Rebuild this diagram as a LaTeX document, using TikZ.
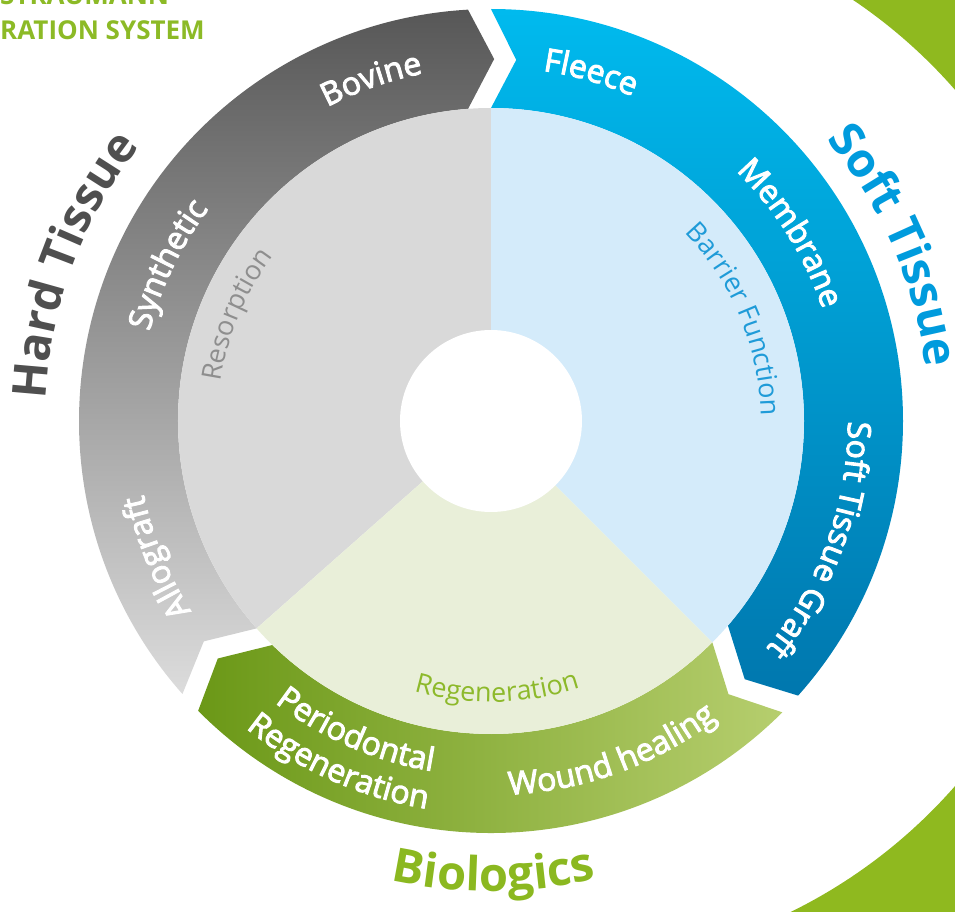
\documentclass[tikz,border=0pt]{standalone}
\usepackage{fontspec}
\setmainfont{Open Sans}
\newfontfamily\bandface{Open Sans}[FakeBold=3]
\usetikzlibrary{decorations.text}

\definecolor{ringgreen}{HTML}{8FB91F}
\definecolor{titlegreen}{HTML}{8CBA26}
\definecolor{graytop}{HTML}{575757}
\definecolor{graybot}{HTML}{DCDCDC}
\definecolor{bluetop}{HTML}{00BAEE}
\definecolor{bluebot}{HTML}{0077AE}
\definecolor{greenleft}{HTML}{6B9817}
\definecolor{greenright}{HTML}{B6CE6E}
\definecolor{innergray}{HTML}{D9D9D9}
\definecolor{innerblue}{HTML}{D4EBFA}
\definecolor{innergreen}{HTML}{E9EFD9}
\definecolor{hardgray}{HTML}{4F4F4F}
\definecolor{softblue}{HTML}{009BDD}
\definecolor{biogreen}{HTML}{8BB820}
\definecolor{resorpgray}{HTML}{8E8E8E}
\definecolor{barrierblue}{HTML}{1F9BD8}
\definecolor{regengreen}{HTML}{8DB92B}

% Phông chữ cho các nhãn cong
\newcommand{\bandfont}{\bandface\fontsize{32}{36}\selectfont\color{white}}
\newcommand{\bigfont}{\fontsize{47}{52}\selectfont\bfseries}
\newcommand{\innerfont}{\fontsize{27}{30}\selectfont}

% Nhãn uốn theo cung tròn: góc giữa #1, bán kính #2
\newcommand{\cwlabel}[3]{%
  \path[decorate, decoration={text along path, text align=center, text={#3}}]
    ({#1+70}:#2) arc[start angle={#1+70}, end angle={#1-70}, radius=#2];}
\newcommand{\ccwlabel}[3]{%
  \path[decorate, decoration={text along path, text align=center, text={#3}}]
    ({#1-70}:#2) arc[start angle={#1-70}, end angle={#1+70}, radius=#2];}

% Dải cung hình mũi tên từ góc #1 đến góc #2
\newcommand{\band}[3]{%
  \path[#3] ({#1}:412) arc[start angle={#1}, end angle={#2+3.2}, radius=412]
    -- ({#2-0.5}:362) -- ({#2+4.2}:313)
    arc[start angle={#2+4.2}, end angle={#1}, radius=313]
    -- ({#1-4}:362) -- cycle;}

\begin{document}
\begin{tikzpicture}[x=1pt, y=1pt,
    grayband/.style={top color=graytop, bottom color=graybot},
    blueband/.style={top color=bluetop, bottom color=bluebot},
    greenband/.style={left color=greenleft, right color=greenright},
    title/.style={anchor=base west, inner sep=0pt, text=titlegreen,
      font=\fontsize{26}{30}\selectfont\bfseries}]
  \useasboundingbox (-491,-490) rectangle (464,421);
  \clip (-491,-490) rectangle (464,421);

  % Vành lớn màu xanh lá bên phải
  \fill[ringgreen, shift={(67,-17)}] (75:528) arc[start angle=75, end angle=-75, radius=528]
    -- (-75:1000) arc[start angle=-75, end angle=75, radius=1000] -- cycle;

  % Tiêu đề
  \node[title] (brand) at (-491,416) {STRAUMANN};
  \node[title] (system) at (-491,381) {RATION SYSTEM};

  % Ba dải cung
  \band{221.5}{90}{grayband}
  \band{90}{-45}{blueband}
  \band{315}{221.5}{greenband}

  % Hình quạt bên trong
  \fill[innergray] (0,0) -- (90:313) arc[start angle=90, end angle=221.5, radius=313] -- cycle;
  \fill[innerblue] (0,0) -- (-45:313) arc[start angle=-45, end angle=90, radius=313] -- cycle;
  \fill[innergreen] (0,0) -- (221.5:313) arc[start angle=221.5, end angle=315, radius=313] -- cycle;
  \fill[white] (0,0) circle[radius=91];

  % Nhãn trên các dải
  \cwlabel{109.3}{354}{|\bandfont|Bovine}
  \cwlabel{154.2}{353}{|\bandfont|Synthetic}
  \cwlabel{202.2}{355}{|\bandfont|Allograft}
  \cwlabel{74}{354}{|\bandfont|Fleece}
  \cwlabel{32.1}{350}{|\bandfont|Membrane}
  \cwlabel{-19.8}{357}{|\bandfont|Soft Tissue Graft}
  \ccwlabel{290}{374}{|\bandfont|Wound healing}
  \ccwlabel{246.5}{355}{|\bandfont|Periodontal}
  \ccwlabel{246}{393}{|\bandfont|Regeneration}

  % Nhãn lớn bên ngoài
  \cwlabel{159.6}{446}{|\bigfont\color{hardgray}|Hard Tissue}
  \cwlabel{23.5}{438}{|\bigfont\color{softblue}|Soft Tissue}
  \ccwlabel{270.3}{470}{|\bigfont\color{biogreen}|Biologics}

  % Nhãn bên trong
  \cwlabel{157.3}{273}{|\innerfont\color{resorpgray}|Resorption}
  \cwlabel{22.6}{270}{|\innerfont\color{barrierblue}|Barrier Function}
  \ccwlabel{271.3}{281}{|\innerfont\color{regengreen}|Regeneration}
\end{tikzpicture}
\end{document}
